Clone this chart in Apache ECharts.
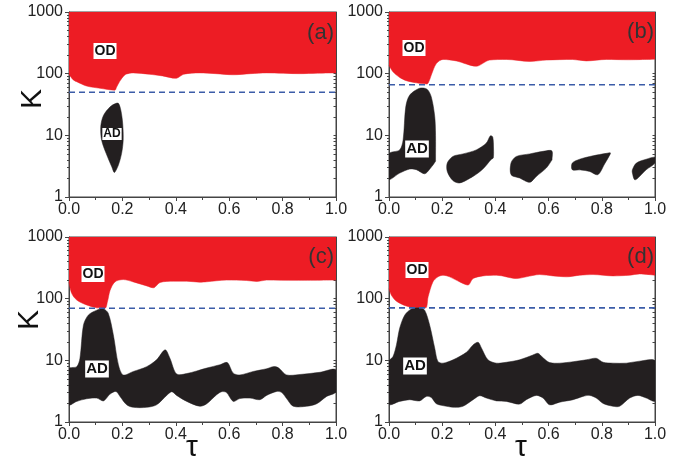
<!DOCTYPE html>
<html><head><meta charset="utf-8">
<script src="https://cdn.jsdelivr.net/npm/echarts@6/dist/echarts.min.js"></script>
<style>html,body{margin:0;padding:0;background:#fff}#c{width:695px;height:464px}</style>
</head><body><div id="c"></div><script>
// ---------- data ----------
const panelNames = ['(a)', '(b)', '(c)', '(d)'];
const xTicks = [0, 0.2, 0.4, 0.6, 0.8, 1.0];
const yTicks = [1, 10, 100, 1000];
const yMinorTicks = [2,3,4,5,6,7,8,9,20,30,40,50,60,70,80,90,200,300,400,500,600,700,800,900];
const dashedK = [50, 66, 70, 71];

// lower edge of the OD (red) region, [tau, K]
const odA = [[0,98],[0.015,80],[0.029,74],[0.066,63],[0.116,58],[0.172,54],[0.178,60],[0.19,75],[0.205,92],[0.216,99],[0.24,103],[0.30,98],[0.35,92],[0.40,84],[0.43,98],[0.49,103],[0.55,100],[0.615,96],[0.68,100],[0.74,103],[0.865,100],[0.93,102],[1.0,103]];
const odB = [[0,137],[0.015,107],[0.04,87],[0.065,77],[0.103,71],[0.143,68],[0.152,78],[0.159,95],[0.178,146],[0.203,170],[0.253,161],[0.328,132],[0.378,166],[0.441,170],[0.529,158],[0.591,166],[0.69,170],[0.742,161],[0.817,170],[0.9,168],[1.0,172]];
const odC = [[0,187],[0.01,122],[0.029,95],[0.066,79],[0.104,71],[0.135,70],[0.144,89],[0.154,137],[0.172,187],[0.203,204],[0.241,187],[0.291,161],[0.316,150],[0.341,183],[0.391,192],[0.441,192],[0.49,185],[0.516,188],[0.59,200],[0.665,197],[0.703,190],[0.74,200],[0.85,198],[1.0,200]];
const odD = [[0,146],[0.009,114],[0.028,91],[0.065,76],[0.103,71],[0.138,71],[0.147,107],[0.165,187],[0.184,226],[0.203,240],[0.228,226],[0.266,187],[0.297,166],[0.316,212],[0.353,234],[0.404,240],[0.479,212],[0.516,226],[0.566,246],[0.617,234],[0.667,226],[0.717,240],[0.767,246],[0.842,234],[0.905,240],[0.942,252],[1.0,240]];

// AD (black) regions
const adA = [[0.185,33],[0.194,25.7],[0.201,15.7],[0.203,8.4],[0.197,5.1],[0.185,3.3],[0.170,2.5],[0.160,3.1],[0.139,5.1],[0.122,8.4],[0.119,14],[0.129,21],[0.154,29],[0.172,32.5]];
const adB1Upper = [[0,5.0],[0.04,5.8],[0.053,8.4],[0.063,29],[0.078,45],[0.115,58],[0.143,56],[0.159,42],[0.172,20],[0.175,10],[0.175,4.0]];
const adB1Lower = [[0,1.95],[0.04,2.44],[0.078,2.84],[0.103,2.77],[0.134,2.38],[0.155,2.9],[0.175,3.8]];
const adB2Upper = [[0.219,3.55],[0.24,4.55],[0.278,5.0],[0.328,5.8],[0.366,7.5],[0.381,9.8],[0.390,9.4],[0.393,6.0],[0.392,4.3]];
const adB2Lower = [[0.219,2.6],[0.24,1.85],[0.266,1.69],[0.316,2.16],[0.353,2.84],[0.385,4.1]];
const adB3Upper = [[0.459,3.6],[0.479,4.55],[0.529,5.0],[0.579,5.5],[0.612,5.6],[0.613,4.0]];
const adB3Lower = [[0.459,2.3],[0.491,2.03],[0.529,1.73],[0.554,2.16],[0.591,2.94],[0.613,4.0]];
const adB4Upper = [[0.689,3.55],[0.717,4.1],[0.767,4.66],[0.817,5.1],[0.832,5.2]];
const adB4Lower = [[0.689,2.77],[0.72,2.75],[0.754,2.6],[0.785,2.3],[0.81,3.4],[0.832,5.0]];
const adB5Upper = [[0.915,2.77],[0.93,3.55],[0.967,4.1],[1.0,4.4]];
const adB5Lower = [[0.915,2.45],[0.924,1.9],[0.942,2.16],[0.967,2.77],[1.0,3.55]];
const adCUpper = [[0,7.3],[0.029,7.9],[0.041,10.8],[0.054,37],[0.072,54],[0.104,65],[0.129,68],[0.147,58],[0.166,26],[0.185,8.5],[0.203,5.8],[0.241,6.6],[0.291,7.9],[0.328,10.2],[0.36,14.8],[0.378,10.8],[0.403,6.0],[0.441,6.1],[0.516,7.5],[0.566,8.5],[0.593,9.2],[0.615,6.2],[0.64,5.8],[0.69,6.6],[0.74,7.3],[0.765,7.9],[0.784,7.6],[0.815,5.8],[0.865,5.9],[0.94,6.4],[1.0,7.0]];
const adCLower = [[0,1.91],[0.029,2.16],[0.066,2.38],[0.104,2.44],[0.129,2.2],[0.154,2.84],[0.176,3.13],[0.191,2.6],[0.216,1.9],[0.241,1.73],[0.291,1.73],[0.328,1.9],[0.366,2.7],[0.385,3.1],[0.403,2.7],[0.441,2.16],[0.49,1.8],[0.516,1.98],[0.553,2.77],[0.572,3.1],[0.59,3.0],[0.615,2.16],[0.64,2.4],[0.678,2.44],[0.715,2.3],[0.74,2.7],[0.778,3.13],[0.797,3.0],[0.815,2.4],[0.84,1.8],[0.89,1.8],[0.928,1.98],[0.965,2.6],[1.0,3.1]];
const adDUpper = [[0,9.6],[0.015,11.5],[0.028,17.8],[0.04,33],[0.059,54],[0.084,68],[0.115,71],[0.134,65],[0.153,37],[0.172,15.7],[0.184,9.6],[0.203,9.0],[0.241,10.2],[0.291,13.5],[0.316,17.8],[0.335,19.6],[0.347,16],[0.372,10.2],[0.404,9.0],[0.441,9.3],[0.491,10.2],[0.541,12.2],[0.56,13.0],[0.579,11],[0.604,9.2],[0.642,9.0],[0.692,9.5],[0.742,10.2],[0.779,10.8],[0.805,9.3],[0.842,9.0],[0.892,9.0],[0.942,9.7],[1.0,9.7]];
const adDLower = [[0,1.95],[0.04,2.16],[0.078,2.3],[0.115,2.2],[0.14,2.6],[0.159,2.5],[0.178,1.98],[0.216,1.8],[0.247,1.73],[0.278,1.8],[0.316,2.3],[0.341,2.67],[0.366,2.45],[0.404,2.2],[0.441,2.16],[0.491,1.95],[0.516,2.3],[0.554,2.7],[0.579,2.45],[0.604,1.9],[0.642,2.1],[0.692,2.3],[0.729,2.6],[0.754,2.7],[0.779,2.45],[0.805,2.0],[0.842,1.8],[0.867,1.8],[0.905,2.45],[0.936,2.7],[0.967,2.45],[1.0,2.2]];

// ---------- build ----------
const RED = '#ed1c24', BLACK = '#231f20', BLUE = '#3b5ca8', AXIS = '#444';
const FONT = 'Liberation Sans, Arial, sans-serif';
const band = (up, lo) => up.concat(lo.slice().reverse());

const panels = [
  { grid: [69, 12, 267, 185], od: odA, ad: [adA] },
  { grid: [389, 12, 266, 185], od: odB, ad: [band(adB1Upper, adB1Lower), band(adB2Upper, adB2Lower), band(adB3Upper, adB3Lower), band(adB4Upper, adB4Lower), band(adB5Upper, adB5Lower)] },
  { grid: [69, 237, 267, 185], od: odC, ad: [band(adCUpper, adCLower)] },
  { grid: [389, 237, 266, 185], od: odD, ad: [band(adDUpper, adDLower)] }
];

const grid = [], xAxis = [], yAxis = [], series = [];
panels.forEach((p, i) => {
  grid.push({ left: p.grid[0], top: p.grid[1], width: p.grid[2], height: p.grid[3], show: true, borderColor: AXIS, borderWidth: 1, backgroundColor: 'transparent', outerBoundsMode: 'none', containLabel: false });
  xAxis.push({
    gridIndex: i, type: 'value', min: 0, max: 1, interval: 0.2,
    axisLine: { show: true, lineStyle: { color: AXIS, width: 1 } },
    axisTick: { show: true, length: 4, lineStyle: { color: AXIS } },
    minorTick: { show: true, splitNumber: 2, length: 3, lineStyle: { color: AXIS } },
    splitLine: { show: false }, minorSplitLine: { show: false },
    axisLabel: { fontSize: 16, fontFamily: FONT, color: '#222', margin: 5, formatter: v => (xTicks.some(t => Math.abs(t - v) < 1e-9) ? v.toFixed(1) : '') }
  });
  const yBase = yAxis.length;
  yAxis.push({
    gridIndex: i, type: 'log', logBase: 10, min: 1, max: 1000, position: 'left',
    axisLine: { show: true, lineStyle: { color: AXIS } },
    axisTick: { show: true, length: 4, lineStyle: { color: AXIS }, customValues: yTicks },
    axisLabel: { fontSize: 16, fontFamily: FONT, color: '#222', margin: 6, customValues: yTicks, formatter: v => String(Math.round(v)) },
    splitLine: { show: false }
  });
  yAxis.push({
    gridIndex: i, type: 'log', logBase: 10, min: 1, max: 1000, position: 'left',
    axisLine: { show: false }, axisLabel: { show: false }, splitLine: { show: false },
    axisTick: { show: true, length: 2, lineStyle: { color: AXIS }, customValues: yMinorTicks }
  });
  yAxis.push({
    gridIndex: i, type: 'log', logBase: 10, min: 1, max: 1000, position: 'right',
    axisLine: { show: true, lineStyle: { color: AXIS } }, axisLabel: { show: false }, splitLine: { show: false },
    axisTick: { show: true, inside: true, length: 2.5, lineStyle: { color: AXIS }, customValues: yTicks.concat(yMinorTicks) }
  });
  // OD: area from boundary up to top of the axis
  series.push({
    type: 'line', xAxisIndex: i, yAxisIndex: yBase, z: 2, symbol: 'none', silent: true,
    smooth: 0.3, data: p.od,
    lineStyle: { color: RED, width: 0.5 },
    areaStyle: { color: RED, opacity: 1, origin: 'end' }
  });
  // AD: closed polygons
  const regions = p.ad;
  series.push({
    type: 'custom', coordinateSystem: 'cartesian2d', xAxisIndex: i, yAxisIndex: yBase, z: 3, silent: true, clip: true,
    data: regions.map(r => r[0]),
    renderItem: (params, api) => {
      const r = regions[params.dataIndex];
      const tl = api.coord([0, 1000]), br = api.coord([1, 1]);
      return {
        type: 'polygon',
        shape: { points: r.map(q => api.coord(q)), smooth: 0.3, smoothConstraint: [tl, br] },
        style: { fill: BLACK, stroke: BLACK, lineWidth: 0.5 }
      };
    }
  });
  series.push({
    type: 'line', xAxisIndex: i, yAxisIndex: yBase, z: 5, symbol: 'none', silent: true,
    data: [[0, dashedK[i]], [1, dashedK[i]]],
    lineStyle: { color: BLUE, width: 1.6, type: [6, 4] }
  });
});

const txt = (x, y, text, font, extra) => Object.assign({ type: 'text', x, y, z: 100, style: Object.assign({ text, font, fill: '#111', align: 'center', verticalAlign: 'middle', textAlign: 'center', textVerticalAlign: 'middle' }, extra || {}) });
const graphic = [
  txt(334, 33, panelNames[0], '22px ' + FONT, { align: 'right', textAlign: 'right', fill: '#333' }),
  txt(654, 32, panelNames[1], '22px ' + FONT, { align: 'right', textAlign: 'right', fill: '#333' }),
  txt(334, 257, panelNames[2], '22px ' + FONT, { align: 'right', textAlign: 'right', fill: '#333' }),
  txt(654, 257, panelNames[3], '22px ' + FONT, { align: 'right', textAlign: 'right', fill: '#333' }),
  txt(105, 51, 'OD', 'bold 14px ' + FONT, { backgroundColor: '#fff', padding: [1, 1] }),
  txt(112, 134, 'AD', 'bold 12px ' + FONT, { backgroundColor: '#fff', padding: [0, 1] }),
  txt(414, 48, 'OD', 'bold 14px ' + FONT, { backgroundColor: '#fff', padding: [1, 1] }),
  txt(417, 149, 'AD', 'bold 15px ' + FONT, { backgroundColor: '#fff', padding: [1, 1] }),
  txt(93, 274, 'OD', 'bold 14px ' + FONT, { backgroundColor: '#fff', padding: [1, 1] }),
  txt(97, 369, 'AD', 'bold 15px ' + FONT, { backgroundColor: '#fff', padding: [1, 1] }),
  txt(417, 270, 'OD', 'bold 14px ' + FONT, { backgroundColor: '#fff', padding: [1, 1] }),
  txt(415, 366, 'AD', 'bold 15px ' + FONT, { backgroundColor: '#fff', padding: [1, 1] }),
  Object.assign(txt(33, 99, 'K', '30px ' + FONT), { rotation: Math.PI / 2 }),
  Object.assign(txt(30, 320, 'K', '30px ' + FONT), { rotation: Math.PI / 2 }),
  txt(192, 448, 'τ', '30px ' + FONT),
  txt(521, 448, 'τ', '30px ' + FONT)
];

const chart = echarts.init(document.getElementById('c'), null, { renderer: 'canvas' });
chart.setOption({ animation: false, backgroundColor: '#fff', grid, xAxis, yAxis, series, graphic });
</script></body></html>
